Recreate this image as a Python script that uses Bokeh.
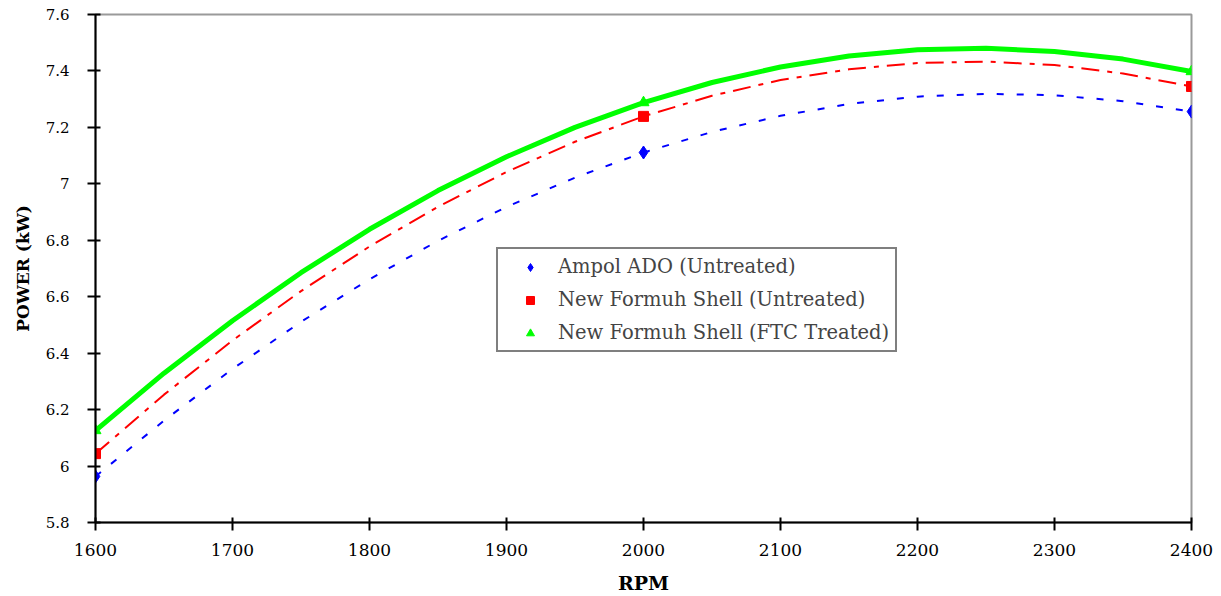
from bokeh.plotting import figure
from bokeh.models import Legend, LegendItem, FixedTicker, Range1d, Title
from bokeh.embed import file_html
from bokeh.resources import INLINE

# measured points
rpm_pts = [1600, 2000, 2400]
ampol = [5.963, 7.111, 7.256]
shell_untreated = [6.044, 7.239, 7.345]
shell_ftc = [6.126, 7.288, 7.398]

# trend curves
rpm_curve = [1600, 1650, 1700, 1750, 1800, 1850, 1900, 1950, 2000,
             2050, 2100, 2150, 2200, 2250, 2300, 2350, 2400]
ampol_curve = [5.963, 6.161, 6.344, 6.511, 6.662, 6.798, 6.918, 7.022, 7.111,
               7.184, 7.241, 7.283, 7.309, 7.319, 7.314, 7.293, 7.256]
untreated_curve = [6.044, 6.253, 6.445, 6.620, 6.778, 6.919, 7.042, 7.149, 7.239,
                   7.312, 7.368, 7.406, 7.428, 7.433, 7.421, 7.391, 7.345]
ftc_curve = [6.126, 6.329, 6.515, 6.685, 6.839, 6.976, 7.096, 7.200, 7.288,
             7.359, 7.414, 7.453, 7.475, 7.480, 7.469, 7.442, 7.398]

x_ticks = [1600, 1700, 1800, 1900, 2000, 2100, 2200, 2300, 2400]
y_ticks = [5.8, 6.0, 6.2, 6.4, 6.6, 6.8, 7.0, 7.2, 7.4, 7.6]
y_labels = ["5.8", "6", "6.2", "6.4", "6.6", "6.8", "7", "7.2", "7.4", "7.6"]

p = figure(width=1213, height=596, output_backend="svg", toolbar_location=None,
           x_range=Range1d(1600, 2400), y_range=Range1d(5.8, 7.6),
           min_border_left=95, min_border_right=22, min_border_top=14, min_border_bottom=74)

p.xgrid.visible = False
p.ygrid.visible = False
p.outline_line_color = "#9a9a9a"
p.outline_line_width = 2
p.background_fill_color = "white"

serif = "DejaVu Serif"

for ax in (p.xaxis[0], p.yaxis[0]):
    ax.axis_line_color = "black"
    ax.axis_line_width = 2
    ax.major_tick_line_color = "black"
    ax.major_tick_line_width = 2
    ax.major_tick_in = 5
    ax.major_tick_out = 8
    ax.minor_tick_line_color = None
    ax.major_label_text_font = serif
    ax.major_label_text_color = "black"
    ax.axis_label_text_font = serif
    ax.axis_label_text_font_style = "bold"
    ax.axis_label_text_color = "black"

p.xaxis.ticker = FixedTicker(ticks=x_ticks)
p.yaxis.ticker = FixedTicker(ticks=y_ticks)
p.yaxis.major_label_overrides = {t: l for t, l in zip(y_ticks, y_labels)}
p.xaxis.major_label_text_font_size = "17px"
p.yaxis.major_label_text_font_size = "15px"
p.xaxis.major_label_standoff = 13
p.yaxis.major_label_standoff = 18
p.xaxis.axis_label = "RPM"
p.xaxis.axis_label_text_font_size = "19px"
p.xaxis.axis_label_standoff = 13

ylab = Title(text="POWER (kW)", align="center", standoff=20,
             text_font=serif, text_font_style="bold", text_font_size="17px",
             text_color="black")
p.add_layout(ylab, "left")

p.line(rpm_curve, ampol_curve, line_color="#0000ff", line_width=2, line_dash="7 13")
p.line(rpm_curve, untreated_curve, line_color="#ff0000", line_width=2, line_dash="18 8 5 8")
p.line(rpm_curve, ftc_curve, line_color="#00ff00", line_width=5)

r1 = p.scatter(rpm_pts, ampol, marker="diamond", size=13, fill_color="#0000ff", line_color="#0000ff")
r2 = p.scatter(rpm_pts, shell_untreated, marker="square", size=10, fill_color="#ff0000", line_color="#ff0000")
r3 = p.scatter(rpm_pts, shell_ftc, marker="triangle", size=11, fill_color="#00ff00", line_color="#00ff00")

legend = Legend(items=[
    LegendItem(label="Ampol ADO (Untreated)", renderers=[r1]),
    LegendItem(label="New Formuh Shell (Untreated)", renderers=[r2]),
    LegendItem(label="New Formuh Shell (FTC Treated)", renderers=[r3]),
], location=(401, 170))
legend.border_line_color = "black"
legend.border_line_width = 2
legend.background_fill_alpha = 1
legend.label_text_font = serif
legend.label_text_font_size = "19.5px"
legend.label_standoff = 2
legend.glyph_width = 52
legend.glyph_height = 20
legend.spacing = 10
legend.padding = 6
legend.margin = 0
legend.label_height = 20
p.add_layout(legend, "center")

open("out.html", "w").write(file_html(p, INLINE))
